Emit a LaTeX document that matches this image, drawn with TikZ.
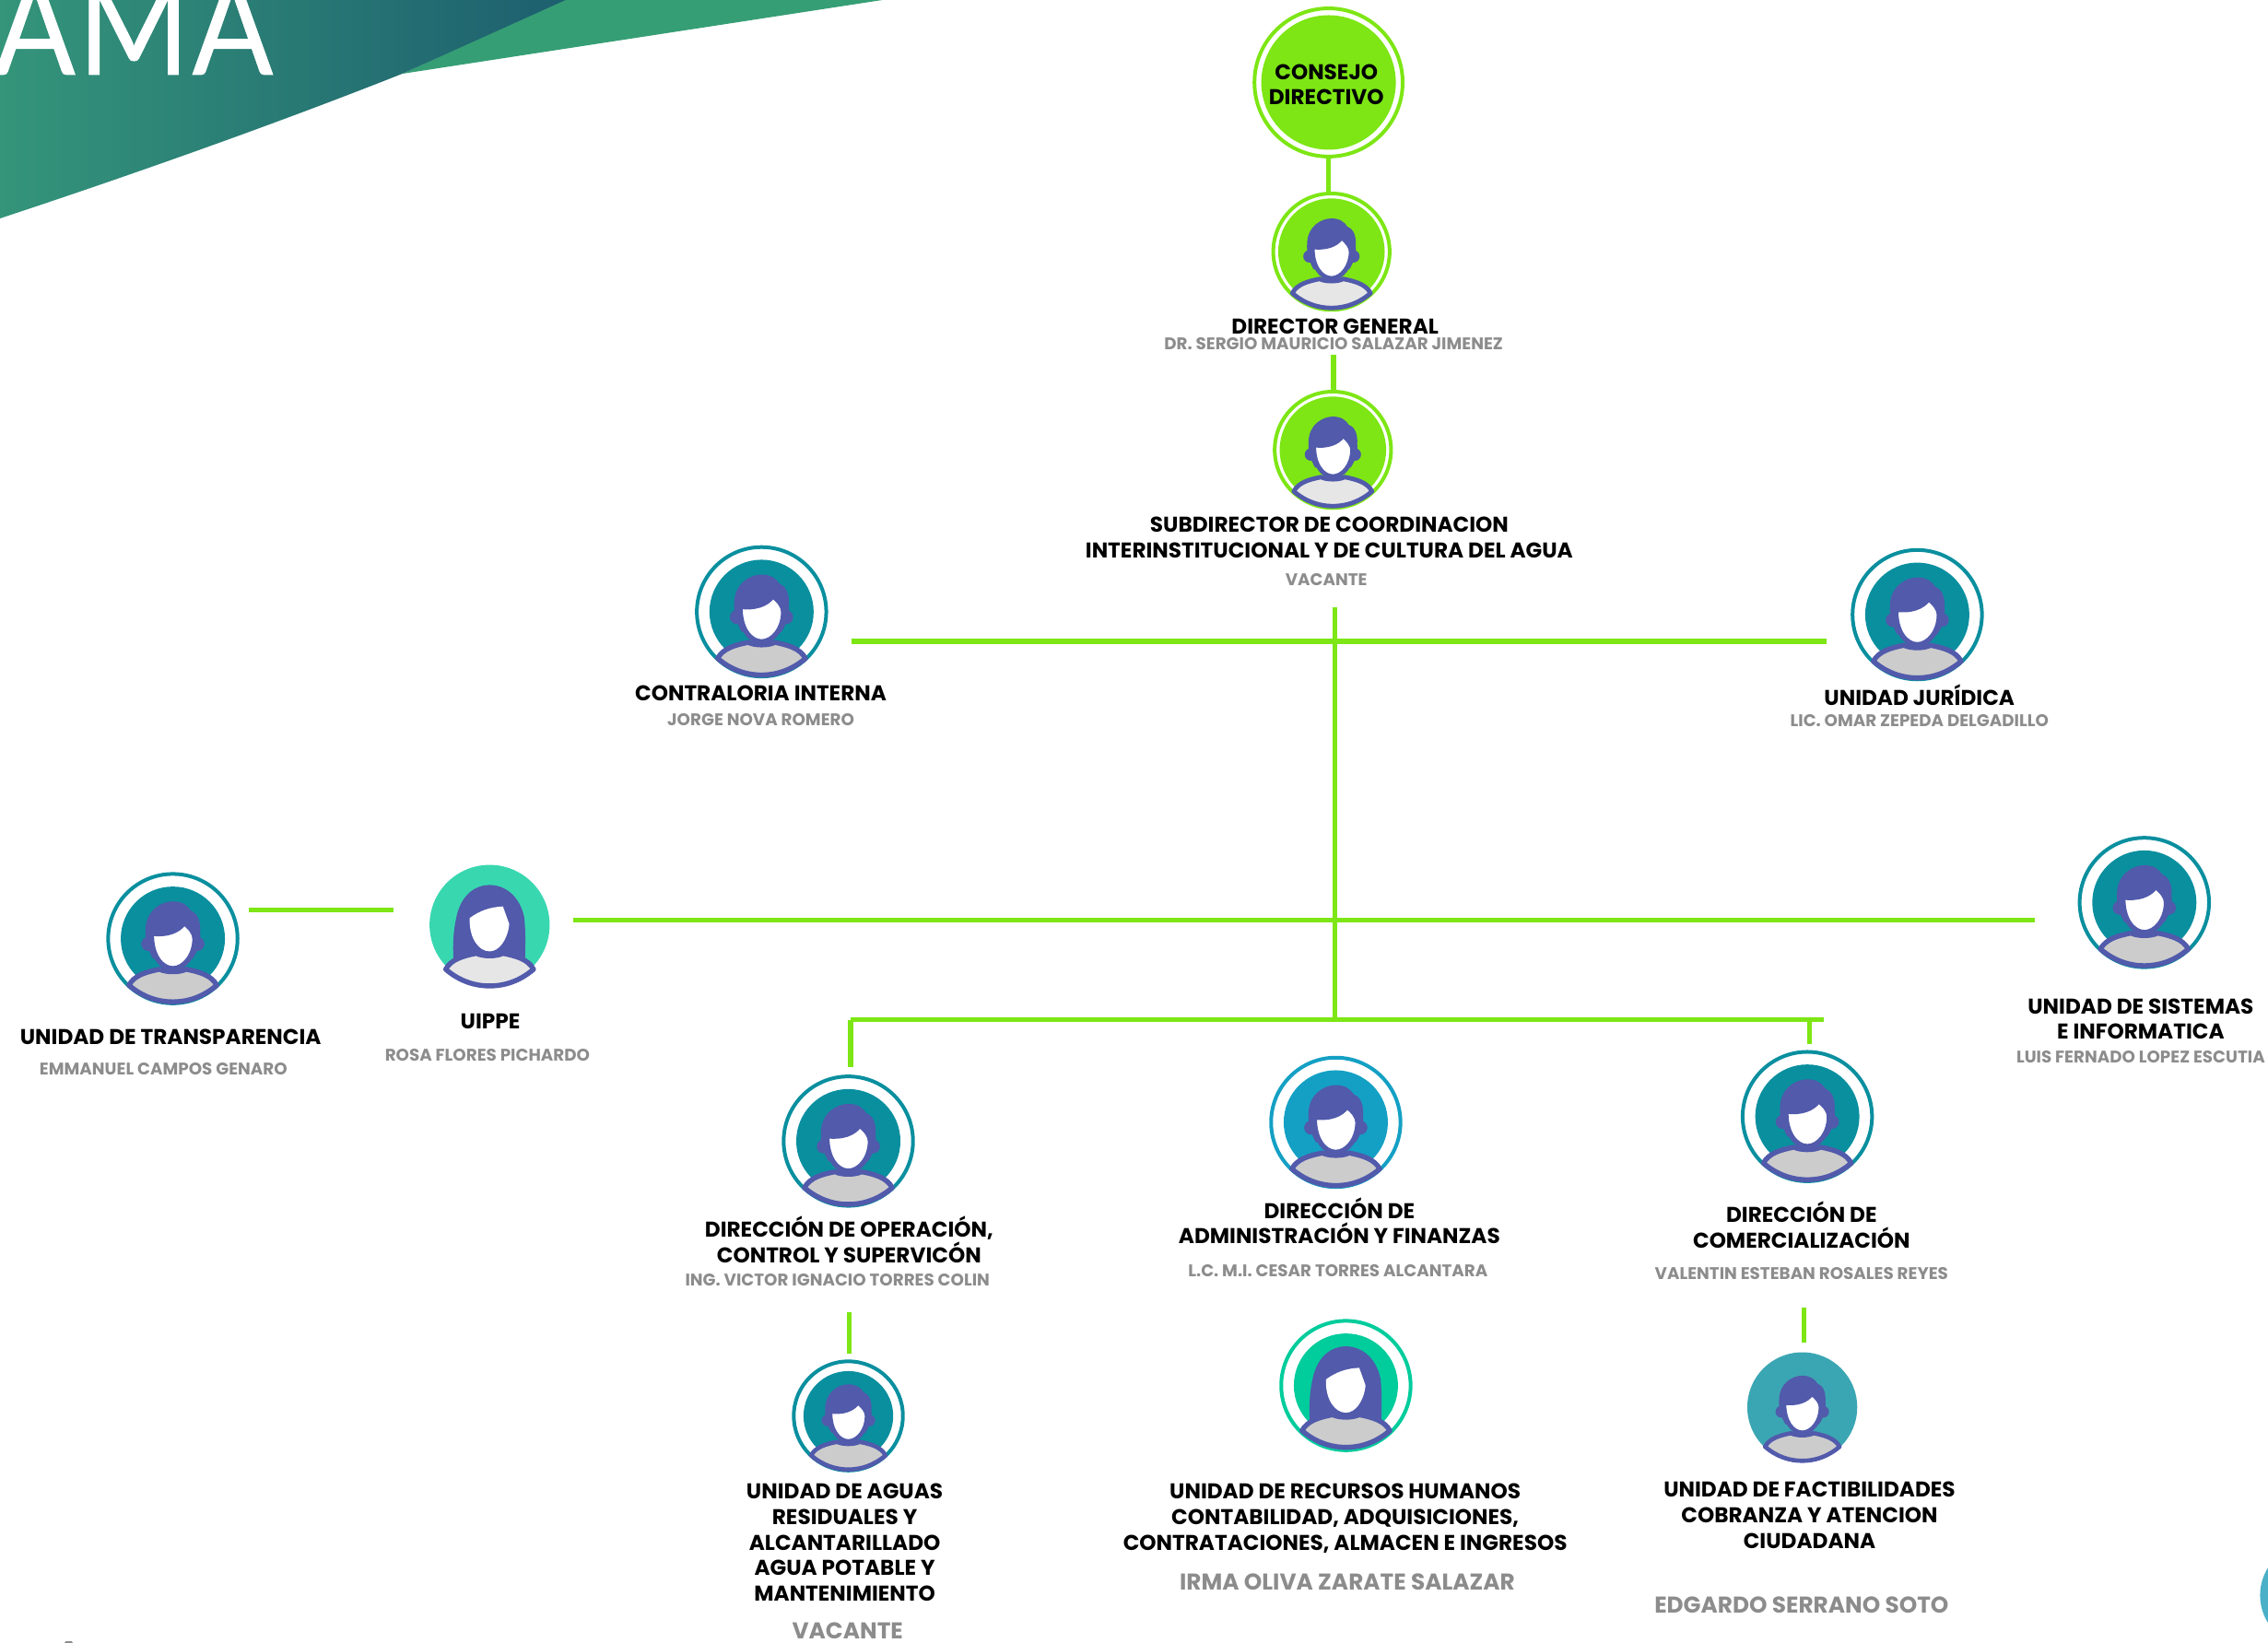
\documentclass[tikz,border=0pt]{standalone}
\usepackage{fontspec}
\setmainfont{Poppins}
\newfontfamily\bannerfont[LetterSpace=2.5,FakeBold=0.6]{Lato}
\definecolor{lime}{HTML}{7DE614}
\definecolor{greytxt}{HTML}{8C8C8C}
\definecolor{purp}{HTML}{515AAB}
\definecolor{tealA}{HTML}{0A8F9F}
\definecolor{blueA}{HTML}{14A0C4}
\definecolor{mint}{HTML}{38D7B0}
\definecolor{seaA}{HTML}{00CC9C}
\definecolor{seaB}{HTML}{3BA6B3}
\definecolor{bodyL}{HTML}{E6E6E6}
\definecolor{bodyD}{HTML}{CCCCCC}
\tikzset{
  conn/.style={draw=lime,line width=2.7pt},
  lab/.style={font=\bfseries\fontsize{11.6}{13.9}\selectfont,align=center,inner sep=0pt,text=black},
  sub/.style={font=\bfseries\fontsize{9.15}{10}\selectfont,align=center,inner sep=0pt,text=greytxt},
  bigsub/.style={font=\bfseries\fontsize{12.4}{13}\selectfont,align=center,inner sep=0pt,text=greytxt},
}
% male / female figure, drawn in units of the figure radius (y grows downward)
\newcommand{\figmale}[2]{%
  \fill[purp] (-.30,.30) .. controls (-.40,.12) and (-.42,0) .. (-.41,-.15)
     .. controls (-.40,-.42) and (-.18,-.56) .. (0,-.56)
     .. controls (.14,-.56) and (.22,-.50) .. (.27,-.42)
     .. controls (.38,-.38) and (.42,-.25) .. (.41,-.10)
     .. controls (.42,.04) and (.40,.14) .. (.30,.30) -- cycle;
  \fill[purp] (-.37,.08) circle[radius=.105];
  \fill[purp] (.37,.08) circle[radius=.105];
  \draw[purp,line width=#2,fill=white] (-.32,-.08) .. controls (-.10,-.05) and (.08,-.11) .. (.17,-.24)
     .. controls (.27,-.16) and (.33,-.08) .. (.33,0)
     .. controls (.33,.25) and (.17,.45) .. (0,.45)
     .. controls (-.17,.45) and (-.33,.25) .. (-.32,-.08) -- cycle;
  \figbody{#1}{#2}}
\newcommand{\figfemale}[2]{%
  \fill[purp] (-.54,.60) .. controls (-.56,.30) and (-.54,.10) .. (-.50,-.08)
     .. controls (-.44,-.38) and (-.25,-.567) .. (0,-.567)
     .. controls (.25,-.567) and (.46,-.38) .. (.52,-.08)
     .. controls (.54,.10) and (.54,.30) .. (.53,.60) -- cycle;
  \fill[white] (-.30,-.07) .. controls (-.15,-.18) and (.0,-.235) .. (.20,-.245)
     -- (.295,.02)
     .. controls (.27,.26) and (.14,.43) .. (0,.43)
     .. controls (-.16,.43) and (-.31,.24) .. (-.30,-.07) -- cycle;
  \figbody{#1}{#2}}
\newcommand{\figbody}[2]{%
  \draw[purp,line width=#2,line join=round,fill=#1] (-.66,.70)
     .. controls (-.58,.55) and (-.40,.50) .. (-.20,.46)
     .. controls (-.10,.51) and (.10,.51) .. (.20,.46)
     .. controls (.40,.50) and (.58,.55) .. (.66,.70)
     .. controls (.45,.88) and (.22,.95) .. (0,.95)
     .. controls (-.22,.95) and (-.45,.88) .. (-.66,.70) -- cycle;}
% #1 name  #2 x  #3 y  #4 ring radius  #5 disc radius  #6 ring colour  #7 disc colour
\newcommand{\ringed}[7]{%
  \node[circle,draw=#6,line width=2pt,minimum size={2*#4*0.7848pt-2pt},inner sep=0pt] (#1) at (#2,#3) {};
  \fill[#7] (#1.center) circle[radius=#5];}
\newcommand{\plain}[5]{%
  \node[circle,fill=#5,minimum size={2*#4*0.7848pt},inner sep=0pt] (#1) at (#2,#3) {};}
\begin{document}
\begin{tikzpicture}[x=0.7848pt,y=-0.7848pt]
\useasboundingbox (0,0) rectangle (1568,1136);
\begin{scope}
\clip (0,0) rectangle (1568,1136);
% banner
\fill[fill={rgb,255:red,54;green,158;blue,117}] (278,51) -- (391,-1) -- (610,-1) -- (610,0) -- cycle;
\shade[left color={rgb,255:red,52;green,149;blue,122},right color={rgb,255:red,29;green,95;blue,111}]
  (0,151) .. controls (100,118) and (200,82) .. (278,51) -- (391,0) -- (0,0) -- cycle;
\node[anchor=base east,inner sep=0pt,text=white,xscale=.9,transform shape,font=\bannerfont\fontsize{72}{72}\selectfont] (banner) at (189,51.5) {AMA};
% cut-off shapes at the page edge
\fill[fill={rgb,255:red,74;green,176;blue,200}] (1598.5,1103) circle[radius=36];
\fill[greytxt] (44.5,1136) -- (45.5,1134.8) -- (49.5,1134.8) -- (50.5,1136) -- cycle;
\end{scope}

% connector end points
\coordinate (d1) at (922,245);
\coordinate (t0) at (923,420);
\coordinate (t1) at (923,705);
\coordinate (hAl) at (589,443.5);
\coordinate (hAr) at (1263,443.5);
\coordinate (hBl) at (396,636);
\coordinate (hBr) at (1407,636);
\coordinate (hCl) at (172,629);
\coordinate (hCr) at (272,629);
\coordinate (hDl) at (588,705);
\coordinate (hDr) at (1261,705);
\coordinate (dr1) at (588,738);
\coordinate (dr2t) at (1251,705);
\coordinate (dr2) at (1251,722);
\coordinate (dr3t) at (587,907);
\coordinate (dr3) at (587,936);
\coordinate (dr4t) at (1247,904);
\coordinate (dr4) at (1247,928);

% consejo
\node[circle,draw=lime,line width=2pt,minimum size={105*0.7848pt-2pt},inner sep=0pt] (consejo) at (918.5,57) {};
\fill[lime] (consejo.center) circle[radius=46.5];
\node[lab] (consejoT) at (917,58.5) {CONSEJO\\DIRECTIVO};

% people
\ringed{dirgen}{920.5}{174}{41.5}{36.8}{lime}{lime}
\begin{scope}[shift={(920.5,174)},scale=41]\figmale{bodyL}{2.4pt}\end{scope}
\ringed{subd}{921.5}{311}{41.5}{36.8}{lime}{lime}
\begin{scope}[shift={(921.5,311)},scale=41]\figmale{bodyL}{2.4pt}\end{scope}
\ringed{contra}{526.5}{423}{46}{36}{tealA}{tealA}
\begin{scope}[shift={(526.5,423)},scale=46]\figmale{bodyD}{2.7pt}\end{scope}
\ringed{juri}{1325.5}{425}{46}{36}{tealA}{tealA}
\begin{scope}[shift={(1325.5,425)},scale=46]\figmale{bodyD}{2.7pt}\end{scope}
\ringed{transp}{119.5}{649}{46}{36}{tealA}{tealA}
\begin{scope}[shift={(119.5,649)},scale=46]\figmale{bodyD}{2.7pt}\end{scope}
\plain{uippe}{338.5}{639.5}{41.5}{mint}
\begin{scope}[shift={(338.5,638)},scale=46]\figfemale{bodyL}{2.7pt}\end{scope}
\ringed{siste}{1482.5}{624}{46}{36}{tealA}{tealA}
\begin{scope}[shift={(1482.5,624)},scale=46]\figmale{bodyD}{2.7pt}\end{scope}
\ringed{opera}{586.5}{789}{46}{36}{tealA}{tealA}
\begin{scope}[shift={(586.5,789)},scale=46]\figmale{bodyD}{2.7pt}\end{scope}
\ringed{admin}{923.5}{776}{46}{36}{blueA}{blueA}
\begin{scope}[shift={(923.5,776)},scale=46]\figmale{bodyD}{2.7pt}\end{scope}
\ringed{comer}{1249.5}{772}{46}{36}{tealA}{tealA}
\begin{scope}[shift={(1249.5,772)},scale=46]\figmale{bodyD}{2.7pt}\end{scope}
\ringed{aguas}{586.5}{979}{39}{31}{tealA}{tealA}
\begin{scope}[shift={(586.5,979)},scale=39]\figmale{bodyD}{2.3pt}\end{scope}
\ringed{rrhh}{930.5}{958}{46}{36}{seaA}{seaA}
\begin{scope}[shift={(930.5,957)},scale=46]\figfemale{bodyD}{2.7pt}\end{scope}
\plain{facti}{1246}{973}{38}{seaB}
\begin{scope}[shift={(1246,973)},scale=39]\figmale{bodyD}{2.3pt}\end{scope}

% connectors
\draw[conn] (consejo.south) -- (consejo.south |- dirgen.north);
\draw[conn] (d1) -- (d1 |- subd.north);
\draw[conn] (t0) -- (t1);
\draw[conn] (hAl) -- (hAr);
\draw[conn] (hBl) -- (hBr);
\draw[conn] (hCl) -- (hCr);
\draw[conn] (hDl) -- (hDr);
\draw[conn] (hDl) -- (dr1);
\draw[conn] (dr2t) -- (dr2);
\draw[conn] (dr3t) -- (dr3);
\draw[conn] (dr4t) -- (dr4);

% texts
\node[lab] (tDir) at (923,225.5) {DIRECTOR GENERAL};
\node[sub] (sDir) at (922,237.5) {DR. SERGIO MAURICIO SALAZAR JIMENEZ};
\node[lab] (tSub) at (919,371.5) {SUBDIRECTOR DE COORDINACION\\INTERINSTITUCIONAL Y DE CULTURA DEL AGUA};
\node[sub] (sSub) at (917,400.5) {VACANTE};
\node[lab] (tCon) at (526,479.5) {CONTRALORIA INTERNA};
\node[sub] (sCon) at (526,497.5) {JORGE NOVA ROMERO};
\node[lab] (tJur) at (1327,480.5) {UNIDAD JURÍDICA};
\node[sub] (sJur) at (1327,498) {LIC. OMAR ZEPEDA DELGADILLO};
\node[lab] (tTra) at (118,717) {UNIDAD DE TRANSPARENCIA};
\node[sub] (sTra) at (113,739) {EMMANUEL CAMPOS GENARO};
\node[lab] (tUip) at (339,706.5) {UIPPE};
\node[sub] (sUip) at (337,729.5) {ROSA FLORES PICHARDO};
\node[lab] (tSis) at (1480,704.5) {UNIDAD DE SISTEMAS\\E INFORMATICA};
\node[sub] (sSis) at (1480,731) {LUIS FERNADO LOPEZ ESCUTIA};
\node[lab] (tOpe) at (587,857) {DIRECCIÓN DE OPERACIÓN,\\CONTROL Y SUPERVICÓN};
\node[sub] (sOpe) at (579,885) {ING. VICTOR IGNACIO TORRES COLIN};
\node[lab] (tAdm) at (926,844) {DIRECCIÓN DE\\ADMINISTRACIÓN Y FINANZAS};
\node[sub] (sAdm) at (925,878.5) {L.C. M.I. CESAR TORRES ALCANTARA};
\node[lab] (tCom) at (1245.5,847) {DIRECCIÓN DE\\COMERCIALIZACIÓN};
\node[sub] (sCom) at (1245.5,880.5) {VALENTIN ESTEBAN ROSALES REYES};
\node[lab] (tAgu) at (584,1066.5) {UNIDAD DE AGUAS\\RESIDUALES Y\\ALCANTARILLADO\\AGUA POTABLE Y\\MANTENIMIENTO};
\node[bigsub] (sAgu) at (586,1127.5) {VACANTE};
\node[lab] (tRrh) at (930,1050) {UNIDAD DE RECURSOS HUMANOS\\CONTABILIDAD, ADQUISICIONES,\\CONTRATACIONES, ALMACEN E INGRESOS};
\node[bigsub] (sRrh) at (931.5,1094) {IRMA OLIVA ZARATE SALAZAR};
\node[lab] (tFac) at (1251,1047.5) {UNIDAD DE FACTIBILIDADES\\COBRANZA Y ATENCION\\CIUDADANA};
\node[bigsub] (sFac) at (1245.5,1109.5) {EDGARDO SERRANO SOTO};
\end{tikzpicture}
\end{document}
